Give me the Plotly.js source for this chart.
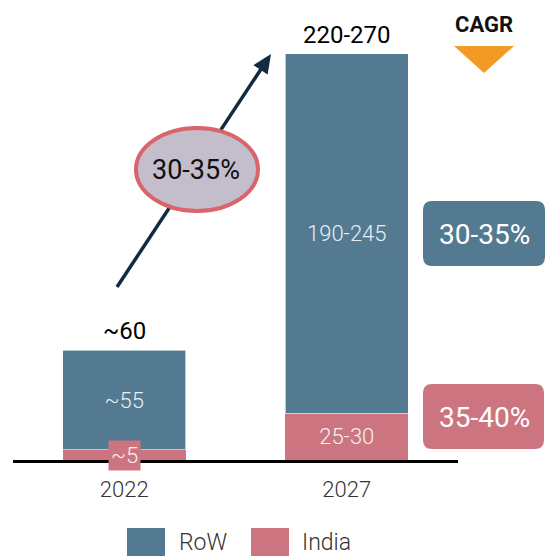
<!DOCTYPE html>
<html><head><meta charset="utf-8">
<script src="https://cdn.plot.ly/plotly-3.0.1.min.js"></script>
<style>html,body{margin:0;padding:0;background:#fff}#chart{width:546px;height:556px}</style>
</head><body><div id="chart"></div>
<script>
// Data
const years = ['2022', '2027'];
const indiaValues = [5.5, 25.5];
const rowValues = [54.5, 197];
const indiaLabels = ['~5', '25-30'];
const rowLabels = ['~55', '190-245'];
const totalLabels = ['~60', '220-270'];
const cagrLabels = ['30-35%', '35-40%'];
const overallCagr = '30-35%';
const seriesNames = ['RoW', 'India'];

const ROW_C = '#547A91', IND_C = '#CC7580';
const FONT = 'Roboto, "Noto Sans", sans-serif';
const totals = years.map((_, i) => indiaValues[i] + rowValues[i]);

const traces = [
  {type: 'bar', name: seriesNames[1], x: years, y: indiaValues,
   text: indiaLabels.map((t, i) => i === 0 ? '' : t), textposition: 'inside', insidetextanchor: 'middle',
   textfont: {color: '#f2f2f2', size: 22, family: FONT, weight: 300}, marker: {color: IND_C}, hoverinfo: 'none'},
  {type: 'bar', name: seriesNames[0], x: years, y: rowValues,
   text: rowLabels, textposition: 'inside', insidetextanchor: 'middle',
   textfont: {color: '#e8eef2', size: 22, family: FONT, weight: 300}, marker: {color: ROW_C, line: {color: '#ffffff', width: 0.6}}, hoverinfo: 'none'}
];

function pxX(p) { return (p - 13) / 445; }
function pxY(p) { return (460 - p) / 420; }
function roundRect(x0, y0, x1, y1, r) {
  const X = pxX, Y = pxY;
  return `M${X(x0 + r)},${Y(y0)} L${X(x1 - r)},${Y(y0)} Q${X(x1)},${Y(y0)} ${X(x1)},${Y(y0 + r)} ` +
    `L${X(x1)},${Y(y1 - r)} Q${X(x1)},${Y(y1)} ${X(x1 - r)},${Y(y1)} L${X(x0 + r)},${Y(y1)} ` +
    `Q${X(x0)},${Y(y1)} ${X(x0)},${Y(y1 - r)} L${X(x0)},${Y(y0 + r)} Q${X(x0)},${Y(y0)} ${X(x0 + r)},${Y(y0)} Z`;
}
function triPath(pts) {
  return 'M' + pts.map(p => pxX(p[0]) + ',' + pxY(p[1])).join(' L') + ' Z';
}

// arrow geometry (pixels)
const tail = [117, 287], tip = [271, 54];
const dx = tip[0] - tail[0], dy = tip[1] - tail[1], len = Math.hypot(dx, dy);
const ux = dx / len, uy = dy / len, nx = -uy, ny = ux;
const headL = 19, headW = 8.5;
const base = [tip[0] - headL * ux, tip[1] - headL * uy];

const shapes = [
  {type: 'path', xref: 'paper', yref: 'paper', path: roundRect(423, 201, 545, 266, 9), fillcolor: ROW_C, line: {width: 0}},
  {type: 'path', xref: 'paper', yref: 'paper', path: roundRect(423, 384, 544, 449, 9), fillcolor: IND_C, line: {width: 0}},
  {type: 'line', xref: 'paper', yref: 'paper', x0: pxX(tail[0]), y0: pxY(tail[1]), x1: pxX(base[0] + 2 * ux), y1: pxY(base[1] + 2 * uy),
   line: {color: '#142A44', width: 3.5}},
  {type: 'path', xref: 'paper', yref: 'paper',
   path: triPath([tip, [base[0] + headW * nx, base[1] + headW * ny], [base[0] - headW * nx, base[1] - headW * ny]]),
   fillcolor: '#142A44', line: {width: 0}},
  {type: 'circle', xref: 'paper', yref: 'paper', x0: pxX(136), x1: pxX(258), y0: pxY(128), y1: pxY(211),
   fillcolor: '#C4BDCB', line: {color: '#D9646A', width: 4}},
  {type: 'path', xref: 'paper', yref: 'paper', path: triPath([[454, 46], [514, 46], [484, 73]]),
   fillcolor: '#F39A25', line: {width: 0}},
  {type: 'rect', xref: 'paper', yref: 'paper', x0: pxX(127), x1: pxX(165), y0: pxY(528), y1: pxY(556), fillcolor: ROW_C, line: {width: 0}},
  {type: 'rect', xref: 'paper', yref: 'paper', x0: pxX(251), x1: pxX(289), y0: pxY(528), y1: pxY(556), fillcolor: IND_C, line: {width: 0}}
];

const annotations = [];
years.forEach((yr, i) => {
  annotations.push({x: i, y: totals[i], xref: 'x', yref: 'y', text: totalLabels[i], showarrow: false,
    xanchor: 'center', yanchor: 'bottom', yshift: 3, font: {size: 24, color: '#000', family: FONT, weight: 400}});
});
annotations.push({x: 0, y: indiaValues[0] / 2, xref: 'x', yref: 'y', text: indiaLabels[0], showarrow: false,
  xanchor: 'center', yanchor: 'middle',
  bgcolor: IND_C, borderpad: 2, font: {size: 22, color: '#f2f2f2', family: FONT, weight: 300}, yshift: -1});
function lab(px, py, text, size, color, extra) {
  return Object.assign({x: pxX(px), y: pxY(py), xref: 'paper', yref: 'paper', text: text, showarrow: false,
    xanchor: 'center', yanchor: 'middle', font: {size: size, color: color, family: FONT}}, extra || {});
}
annotations.push(lab(196, 170, overallCagr, 27, '#111'));
annotations.push(lab(484, 234, cagrLabels[0], 28, '#ffffff'));
annotations.push(lab(484, 417, cagrLabels[1], 28, '#ffffff'));
annotations.push(lab(484, 25, '<b>CAGR</b>', 22, '#111'));
annotations.push(lab(177, 542, seriesNames[0], 23, '#333', {xanchor: 'left', font: {size: 23, color: '#333', family: FONT, weight: 300}}));
annotations.push(lab(300, 542, seriesNames[1], 23, '#333', {xanchor: 'left', font: {size: 23, color: '#333', family: FONT, weight: 300}}));

const layout = {
  width: 546, height: 556,
  margin: {l: 13, r: 88, t: 40, b: 96},
  barmode: 'stack', bargap: 0.446,
  showlegend: false,
  paper_bgcolor: '#fff', plot_bgcolor: '#fff',
  xaxis: {type: 'category', range: [-0.5, 1.5], showline: true, linecolor: '#000', linewidth: 2.5,
    ticks: '', ticklabelstandoff: 8, tickfont: {size: 22, color: '#333', family: FONT, weight: 300}, showgrid: false, zeroline: false, fixedrange: true},
  yaxis: {range: [0, 230], visible: false, showgrid: false, zeroline: false, fixedrange: true},
  shapes: shapes, annotations: annotations,
  font: {family: FONT}
};
Plotly.newPlot('chart', traces, layout, {staticPlot: true, displayModeBar: false});
</script></body></html>
